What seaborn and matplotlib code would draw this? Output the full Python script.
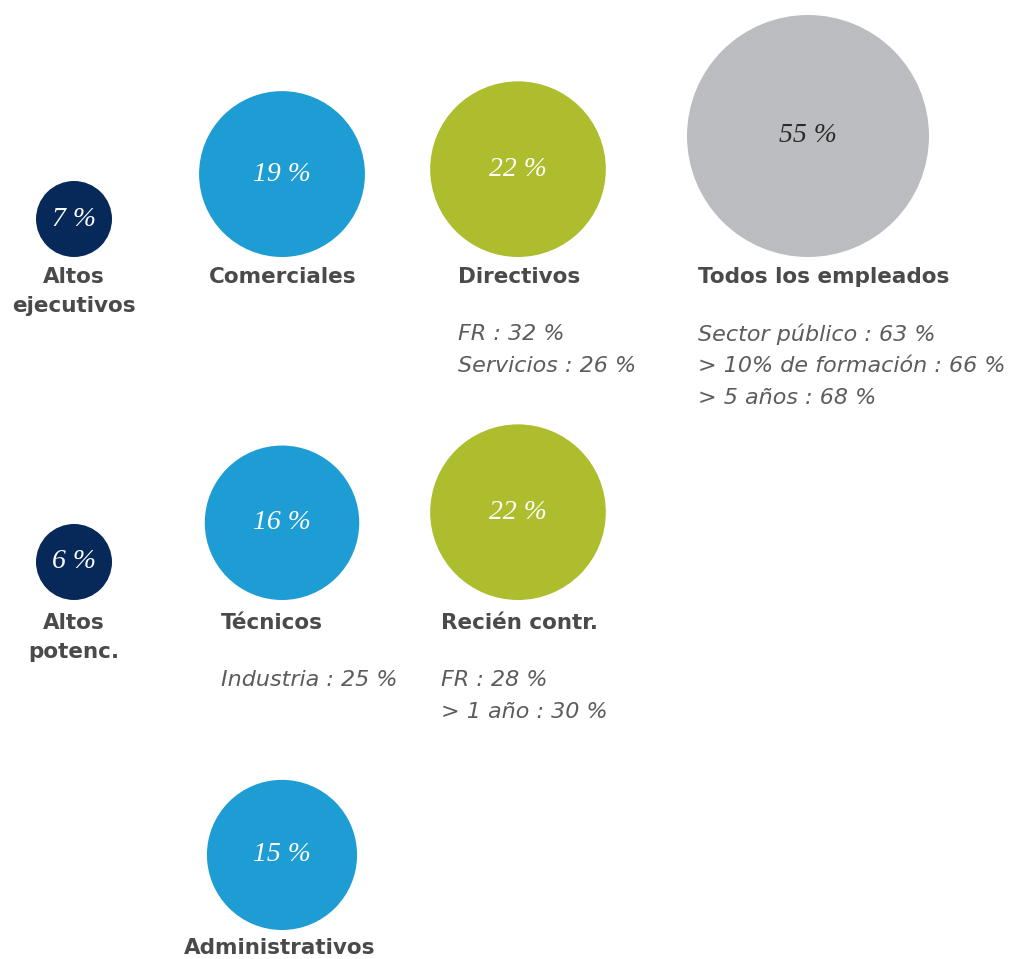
import numpy as np
import pandas as pd
import matplotlib
matplotlib.use('Agg')
import matplotlib.pyplot as plt
import matplotlib.colors as mcolors
import seaborn as sns

# chart values
groups = ['Altos\nejecutivos', 'Comerciales', 'Directivos', 'Todos los empleados',
          'Altos\npotenc.', 'Técnicos', 'Recién contr.', 'Administrativos']
shares = [7, 19, 22, 55, 6, 16, 22, 15]
kinds = ['top', 'role', 'profile', 'all', 'top', 'role', 'profile', 'role']
details = ['', '', 'FR : 32 %\nServicios : 26 %',
           'Sector público : 63 %\n> 10% de formación : 66 %\n> 5 años : 68 %',
           '', 'Industria : 25 %', 'FR : 28 %\n> 1 año : 30 %', '']

# layout (grid slots, pixel space)
cols = [0, 1, 2, 3, 0, 1, 2, 1]
rows = [0, 0, 0, 0, 1, 1, 1, 2]
col_x = [74, 282, 518, 808]
row_base = [257, 600, 930]
row_label = [277, 623, 948]
label_x = [74, 283, 458, 698, 74, 221, 441, 280]
label_ha = ['center', 'center', 'left', 'left', 'center', 'left', 'left', 'center']

palette = {'top': '#06295a', 'role': '#1d9dd3', 'profile': '#adbd2d', 'all': '#bcbdc1'}
pct_color = {'top': 'white', 'role': 'white', 'profile': 'white', 'all': '#2a2a2a'}
label_color = '#4a4a4a'
detail_color = '#5c5c5c'

W, H, DPI = 1013, 959, 100
px2pt = 72 / DPI

# area scale: bubble area grows with share (compressed)
smin = (76 * px2pt) ** 2
smax = (242 * px2pt) ** 2
norm = mcolors.PowerNorm(0.64, vmin=7, vmax=55, clip=True)


def radius_px(v):
    s = smin + float(norm(v)) * (smax - smin)
    return np.sqrt(s) / 2 / px2pt


df = pd.DataFrame({'group': groups, 'share': shares, 'kind': kinds})
df['x'] = [col_x[c] for c in cols]
df['y'] = [row_base[r] - radius_px(v) for r, v in zip(rows, shares)]

sns.set_theme(style='white')
plt.rcParams['font.family'] = ['DejaVu Sans']

fig = plt.figure(figsize=(W / DPI, H / DPI), dpi=DPI)
ax = fig.add_axes([0, 0, 1, 1])

sns.scatterplot(data=df, x='x', y='y', hue='kind', palette=palette,
                size='share', sizes=(smin, smax), size_norm=norm,
                linewidth=0, legend=False, ax=ax, clip_on=False)

ax.set_xlim(0, W)
ax.set_ylim(H, 0)
ax.axis('off')

for i, row in df.iterrows():
    # percentage inside bubble
    ax.text(row['x'], row['y'], f"{row['share']} %", ha='center', va='center',
            family='Liberation Serif', style='italic', fontsize=20,
            color=pct_color[row['kind']])
    # group name
    ly = row_label[rows[i]]
    for j, line in enumerate(row['group'].split('\n')):
        ax.text(label_x[i], ly + j * 29, line, ha=label_ha[i], va='center',
                fontsize=15.5, fontweight='bold', color=label_color)
    # extra facts
    if details[i]:
        for j, line in enumerate(details[i].split('\n')):
            ax.text(label_x[i], ly + 57 + j * 32, line, ha='left', va='center',
                    fontsize=16, style='italic', color=detail_color)

fig.savefig('out.png', dpi=DPI)
